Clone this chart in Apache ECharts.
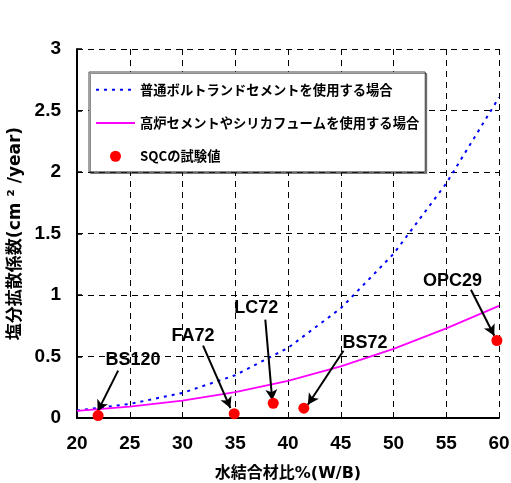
<!DOCTYPE html>
<html>
<head>
<meta charset="utf-8">
<script src="https://cdn.jsdelivr.net/npm/echarts@6/dist/echarts.min.js"></script>
<style>html,body{margin:0;padding:0;background:#fff}#c{width:511px;height:483px}</style>
</head>
<body>
<div id="c"></div>
<script>
// W/B (%) for the two model curves
const wb = [20, 25, 30, 35, 40, 45, 50, 55, 60];
// 普通ポルトランドセメント (dotted blue)
const opcD = [0.061, 0.114, 0.204, 0.348, 0.570, 0.892, 1.334, 1.907, 2.606];
// 高炉セメントやシリカフューム (magenta)
const bfsD = [0.058, 0.092, 0.141, 0.210, 0.302, 0.420, 0.562, 0.729, 0.912];
// SQC test values
const sqcNames = ['BS120', 'FA72', 'LC72', 'BS72', 'OPC29'];
const sqcX = [22.0, 34.9, 38.6, 41.5, 59.8];
const sqcY = [0.02, 0.035, 0.12, 0.08, 0.63];
// annotation label anchors (data coords)
const labelX = [25.3, 31.0, 37.0, 47.3, 55.6];
const labelY = [0.47, 0.665, 0.89, 0.606, 1.11];
// arrow start / end (data coords)
const arrowFromX = [23.9, 31.95, 37.85, 45.26, 57.34];
const arrowFromY = [0.385, 0.588, 0.80, 0.547, 1.043];
const arrowToX = [21.96, 34.54, 38.51, 41.88, 59.55];
const arrowToY = [0.054, 0.081, 0.143, 0.108, 0.669];
// axis ticks
const xMin = 20, xMax = 60, xStep = 5;
const yMin = 0, yMax = 3, yStep = 0.5;

const legendNames = ['普通ボルトランドセメントを使用する場合', '高炉セメントやシリカフュームを使用する場合', 'SQCの試験値'];

const font = '"Liberation Sans", Arial, sans-serif';
const cjk = '"Noto Sans CJK JP", sans-serif';
const mixed = '"DejaVu Sans", "Noto Sans CJK JP", sans-serif';

const chart = echarts.init(document.getElementById('c'), null, {renderer: 'canvas'});
const gridLine = {show: true, lineStyle: {color: '#000', type: [6, 5], width: 1}};

chart.setOption({
  animation: false,
  backgroundColor: '#fff',
  grid: {left: 77, right: 12, top: 49, bottom: 65, containLabel: false, outerBoundsMode: 'none'},
  legend: {
    data: [
      {name: legendNames[0], itemStyle: {opacity: 0}},
      {name: legendNames[1], itemStyle: {opacity: 0}},
      {name: legendNames[2], itemStyle: {opacity: 1, color: '#ff0000'}}
    ],
    orient: 'vertical',
    left: 89, top: 72,
    itemWidth: 39, itemHeight: 11, itemGap: 20,
    padding: [11, 6, 9, 6],
    backgroundColor: '#fff',
    borderColor: '#444', borderWidth: 1,
    shadowColor: 'rgba(0,0,0,0.45)', shadowOffsetX: 1.5, shadowOffsetY: 1.5, shadowBlur: 0,
    textStyle: {fontFamily: cjk, fontWeight: 'bold', fontSize: 13.3, color: '#000'},
    z: 10
  },
  xAxis: {
    type: 'value', min: xMin, max: xMax, interval: xStep,
    name: '水結合材比%(W/B)', nameLocation: 'middle', nameGap: 48,
    nameTextStyle: {fontFamily: mixed, fontWeight: 'bold', fontSize: 16, color: '#000'},
    axisLine: {show: true, lineStyle: {color: '#000', width: 2}},
    axisTick: {show: false},
    axisLabel: {fontFamily: font, fontWeight: 'bold', fontSize: 19, color: '#000', margin: 16},
    splitLine: gridLine
  },
  yAxis: {
    type: 'value', min: yMin, max: yMax, interval: yStep,
    name: '塩分拡散係数(cm ² /year)', nameLocation: 'middle', nameGap: 44, nameRotate: 90,
    nameTextStyle: {fontFamily: mixed, fontWeight: 'bold', fontSize: 17, color: '#000'},
    axisLine: {show: true, lineStyle: {color: '#000', width: 2}},
    axisTick: {show: true, inside: true, length: 5, lineStyle: {color: '#000', width: 1.5}},
    axisLabel: {fontFamily: font, fontWeight: 'bold', fontSize: 19, color: '#000', margin: 16},
    splitLine: gridLine
  },
  series: [
    {
      name: legendNames[0], type: 'line', symbol: 'none', z: 3,
      data: wb.map((x, i) => [x, opcD[i]]),
      lineStyle: {color: '#0000ff', width: 2, type: [3, 5]},
      itemStyle: {color: '#0000ff'}
    },
    {
      name: legendNames[1], type: 'line', symbol: 'none', z: 3,
      data: wb.map((x, i) => [x, bfsD[i]]),
      lineStyle: {color: '#ff00ff', width: 1.8},
      itemStyle: {color: '#ff00ff'}
    },
    {
      name: legendNames[2], type: 'scatter', symbol: 'circle', symbolSize: 11, z: 5,
      data: sqcX.map((x, i) => [x, sqcY[i]]),
      itemStyle: {color: '#ff0000', opacity: 1},
      markLine: {
        silent: true, symbol: ['none', 'arrow'], symbolSize: [9, 11],
        lineStyle: {color: '#000', width: 2, type: 'solid', opacity: 1},
        label: {show: false},
        data: sqcNames.map((n, i) => [
          {coord: [arrowFromX[i], arrowFromY[i]]},
          {coord: [arrowToX[i], arrowToY[i]]}
        ])
      }
    },
    {
      name: 'labels', type: 'scatter', symbolSize: 0, z: 6, silent: true,
      itemStyle: {opacity: 1},
      data: sqcNames.map((n, i) => ({name: n, value: [labelX[i], labelY[i]]})),
      label: {show: true, position: 'inside', formatter: p => p.name,
        fontFamily: font, fontWeight: 'bold', fontSize: 18, color: '#000'}
    }
  ]
});
</script>
</body>
</html>
